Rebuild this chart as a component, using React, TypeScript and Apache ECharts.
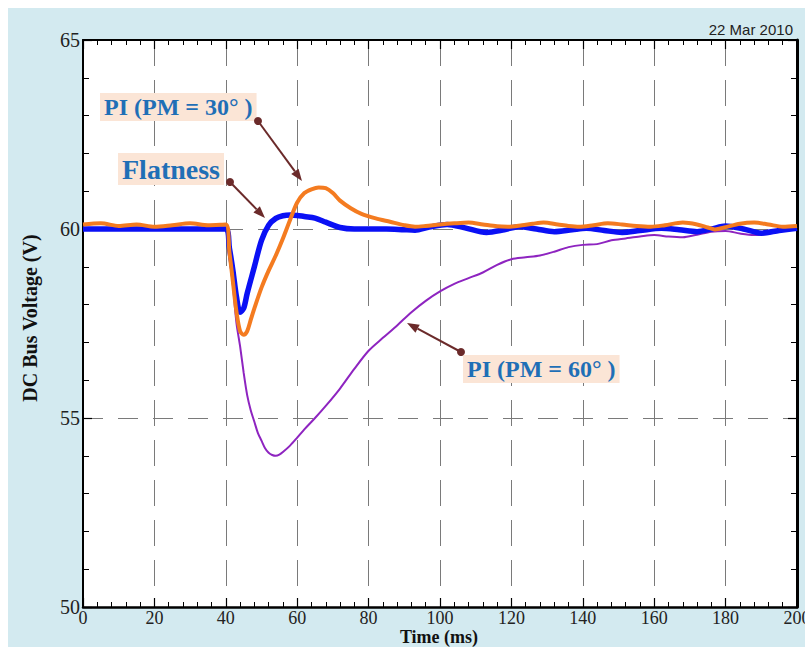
import React, { useEffect, useRef } from "react";
import * as echarts from "echarts";

// Time axis (ms) and voltage (V)
const xTicks = [0, 20, 40, 60, 80, 100, 120, 140, 160, 180, 200];
const yTicks = [50, 55, 60, 65];

// Flatness control (blue)
const flatT = [0, 40, 41, 42, 43, 44, 45, 46, 48, 50, 52, 54, 56, 58, 60, 62, 65, 68, 72, 76, 80, 85, 90, 93, 97, 102, 107, 113, 118, 122, 127, 132, 137, 141, 146, 151, 156, 162, 167, 172, 176, 180, 185, 190, 195, 200];
const flatV = [60.0, 60.0, 59.5, 58.9, 58.2, 57.8, 57.9, 58.3, 59.0, 59.7, 60.1, 60.28, 60.35, 60.37, 60.36, 60.33, 60.29, 60.18, 60.04, 60.0, 60.0, 60.0, 59.98, 59.97, 60.05, 60.12, 60.03, 59.91, 59.98, 60.06, 60.0, 59.93, 59.98, 60.02, 59.96, 59.91, 59.96, 60.02, 59.98, 59.93, 60.0, 60.08, 60.0, 59.89, 59.96, 60.02];

// PI (PM = 30°) (orange)
const pi30T = [0, 5, 10, 15, 20, 25, 30, 35, 40, 41, 42, 43, 44, 45, 46, 47, 48, 50, 52, 54, 56, 58, 60, 62, 64, 66, 68, 70, 72, 75, 78, 82, 86, 90, 93, 96, 100, 104, 108, 112, 116, 119, 123, 126, 129, 133, 136, 139, 143, 147, 151, 155, 159, 163, 168, 172, 175, 177, 180, 184, 188, 192, 196, 200];
const pi30V = [60.12, 60.15, 60.08, 60.12, 60.06, 60.1, 60.15, 60.1, 60.12, 59.4, 58.6, 57.8, 57.3, 57.2, 57.3, 57.6, 57.9, 58.45, 58.9, 59.3, 59.75, 60.24, 60.7, 60.95, 61.05, 61.1, 61.08, 60.95, 60.75, 60.55, 60.4, 60.28, 60.19, 60.1, 60.06, 60.08, 60.12, 60.15, 60.17, 60.12, 60.07, 60.06, 60.1, 60.14, 60.17, 60.12, 60.08, 60.06, 60.1, 60.15, 60.12, 60.08, 60.06, 60.1, 60.17, 60.12, 60.04, 59.99, 60.05, 60.14, 60.17, 60.12, 60.06, 60.08];

// PI (PM = 60°) (purple)
const pi60T = [0, 40, 41, 42, 43, 44, 45, 46, 47, 48, 49, 50, 51, 52, 53, 54, 55, 56, 58, 60, 62, 65, 68, 72, 76, 80, 84, 88, 92, 96, 100, 104, 108, 112, 116, 120, 124, 128, 132, 136, 140, 144, 148, 152, 156, 160, 164, 168, 172, 176, 180, 184, 188, 192, 196, 200];
const pi60V = [60.0, 60.0, 59.3, 58.5, 57.5, 56.9, 56.2, 55.6, 55.2, 54.9, 54.6, 54.4, 54.2, 54.08, 54.02, 54.0, 54.03, 54.1, 54.27, 54.48, 54.7, 55.0, 55.32, 55.78, 56.3, 56.78, 57.12, 57.45, 57.8, 58.1, 58.35, 58.55, 58.7, 58.85, 59.05, 59.2, 59.25, 59.3, 59.4, 59.52, 59.58, 59.6, 59.7, 59.75, 59.8, 59.84, 59.8, 59.78, 59.85, 59.93, 59.95, 59.88, 59.84, 59.88, 59.95, 60.0];

const pair = (t: number[], v: number[]) => t.map((x, i) => [x, v[i]]);

const ARROW = "#6b2a2a";
function arrow(x1: number, y1: number, x2: number, y2: number) {
  const dx = x2 - x1, dy = y2 - y1;
  const L = Math.hypot(dx, dy);
  const ux = dx / L, uy = dy / L;
  const head = 12, half = 4.5;
  const bx = x2 - ux * head, by = y2 - uy * head;
  return [
    { type: "line", shape: { x1, y1, x2: bx, y2: by }, style: { stroke: ARROW, lineWidth: 2 }, z: 100 },
    { type: "polygon", shape: { points: [[x2, y2], [bx - uy * half, by + ux * half], [bx + uy * half, by - ux * half]] }, style: { fill: ARROW }, z: 100 },
    { type: "circle", shape: { cx: x1, cy: y1, r: 4 }, style: { fill: ARROW }, z: 100 },
  ];
}

const labelStyle = (text: string, x: number, y: number, size: number) => ({
  type: "text",
  x,
  y,
  z: 100,
  style: {
    text,
    fill: "#1f6fb6",
    font: `bold ${size}px "Liberation Serif", serif`,
    backgroundColor: "#fbe5d6",
    padding: [3, 4, 1, 4],
    verticalAlign: "middle",
    align: "left",
  },
});

export default function App() {
  const ref = useRef<HTMLDivElement>(null);
  useEffect(() => {
    const chart = echarts.init(ref.current!, undefined, { renderer: "svg" });
    const tickFont = { fontFamily: '"Liberation Serif", serif', fontSize: 19, color: "#222" };
    const baseX = {
      type: "value",
      min: 0,
      max: 200,
      interval: 20,
    };
    const baseY = {
      type: "value",
      min: 50,
      max: 65,
      interval: 5,
    };
    chart.setOption({
      animation: false,
      grid: {
        left: 75,
        top: 32,
        width: 714,
        height: 567,
        show: true,
        backgroundColor: "#ffffff",
        borderWidth: 0,
        containLabel: false,
        outerBoundsMode: "none",
      },
      xAxis: [
        {
          ...baseX,
          position: "bottom",
          axisLine: { show: true, onZero: false, lineStyle: { color: "#000", width: 2.5 } },
          axisTick: { show: true, inside: true, length: 9, lineStyle: { color: "#000", width: 1.2 } },
          minorTick: { show: true, splitNumber: 5, length: 5, lineStyle: { color: "#000", width: 1 } },
          axisLabel: { ...tickFont, fontSize: 18, lineHeight: 18, margin: 2, formatter: (v: number) => (xTicks.includes(v) ? String(v) : "") },
          splitLine: { show: true, lineStyle: { color: "#7a7a7a", width: 1, type: [26, 14] } },
        },
        {
          ...baseX,
          position: "top",
          axisLine: { show: true, onZero: false, lineStyle: { color: "#000", width: 2 } },
          axisTick: { show: true, inside: true, length: 9, lineStyle: { color: "#000", width: 1.2 } },
          minorTick: { show: true, splitNumber: 5, length: 5, lineStyle: { color: "#000", width: 1 } },
          axisLabel: { show: false },
          splitLine: { show: false },
        },
      ],
      yAxis: [
        {
          ...baseY,
          position: "left",
          axisLine: { show: true, onZero: false, lineStyle: { color: "#000", width: 2 } },
          axisTick: { show: true, inside: true, length: 9, lineStyle: { color: "#000", width: 1.2 } },
          minorTick: { show: true, splitNumber: 5, length: 6, lineStyle: { color: "#000", width: 1 } },
          axisLabel: { ...tickFont, fontSize: 20, margin: 3, formatter: (v: number) => (yTicks.includes(v) ? String(v) : "") },
          splitLine: { show: true, lineStyle: { color: "#7a7a7a", width: 1, type: [20, 15] } },
        },
        {
          ...baseY,
          position: "right",
          axisLine: { show: true, onZero: false, lineStyle: { color: "#000", width: 3 } },
          axisTick: { show: true, inside: true, length: 9, lineStyle: { color: "#000", width: 1.2 } },
          minorTick: { show: true, splitNumber: 5, length: 6, lineStyle: { color: "#000", width: 1 } },
          axisLabel: { show: false },
          splitLine: { show: false },
        },
      ],
      series: [
        {
          name: "PI (PM = 60°)",
          type: "line",
          data: pair(pi60T, pi60V),
          showSymbol: false,
          smooth: 0.3,
          lineStyle: { color: "#8e24c0", width: 2 },
          z: 2,
        },
        {
          name: "Flatness",
          type: "line",
          data: pair(flatT, flatV),
          showSymbol: false,
          smooth: 0.3,
          lineStyle: { color: "#0a10f5", width: 5.5 },
          z: 3,
        },
        {
          name: "PI (PM = 30°)",
          type: "line",
          data: pair(pi30T, pi30V),
          showSymbol: false,
          smooth: 0.3,
          lineStyle: { color: "#f47b20", width: 4 },
          z: 4,
        },
      ],
      graphic: [
        {
          type: "text",
          x: 785,
          y: 29,
          style: { text: "22 Mar 2010", fill: "#222", font: '15px "Liberation Sans", Arial, sans-serif', align: "right", verticalAlign: "bottom" },
        },
        {
          type: "text",
          x: 431,
          y: 629,
          style: { text: "Time (ms)", fill: "#111", font: 'bold 18px "Liberation Serif", serif', align: "center", verticalAlign: "middle", lineHeight: 18 },
        },
        {
          type: "text",
          x: 22,
          y: 310,
          rotation: Math.PI / 2,
          style: { text: "DC Bus Voltage (V)", fill: "#111", font: 'bold 20px "Liberation Serif", serif', align: "center", verticalAlign: "middle" },
        },
        labelStyle("PI (PM = 30° )", 92, 99, 24),
        labelStyle("Flatness", 110, 161, 28),
        labelStyle("PI (PM = 60° )", 455, 361, 24),
        ...arrow(250, 113, 294, 173),
        ...arrow(222, 174, 257, 210),
        ...arrow(453, 344, 399, 315),
      ],
    });
    return () => chart.dispose();
  }, []);
  return (
    <div
      ref={ref}
      style={{ position: "absolute", left: 8, top: 8, width: 797, height: 639, background: "#d3eaf0" }}
    />
  );
}
